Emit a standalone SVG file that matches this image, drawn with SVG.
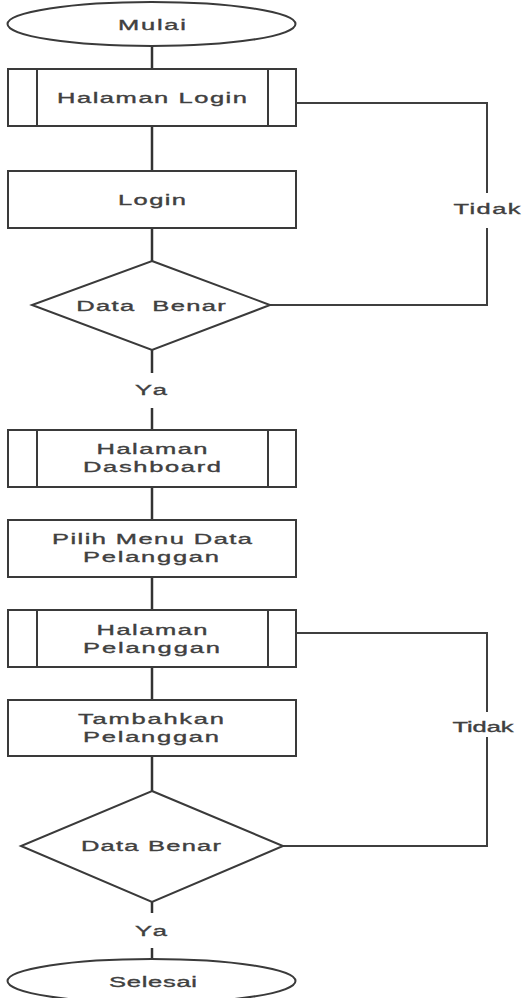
<svg xmlns="http://www.w3.org/2000/svg" width="522" height="998" viewBox="0 0 522 998">
  <style>
    .shape { fill: #ffffff; stroke: #3a3a3a; stroke-width: 2; }
    .bar { stroke: #3a3a3a; stroke-width: 2; }
    .flow { fill: none; stroke: #333333; stroke-width: 2.5; }
    .loop { fill: none; stroke: #3f3f3f; stroke-width: 2; }
    text { font-family: "Liberation Sans", Arial, sans-serif; font-size: 15px; fill: #404040; stroke: #404040; stroke-width: 0.35; text-anchor: middle; }
  </style>
  <rect width="522" height="998" fill="#ffffff"/>

  <!-- connectors; every label is drawn with wide (1.7x) glyphs -->
  <g id="connectors">
    <line class="flow" x1="152" y1="46" x2="152" y2="69"/>
    <line class="flow" x1="152" y1="126" x2="152" y2="171"/>
    <line class="flow" x1="152" y1="228" x2="152" y2="261"/>
    <line class="flow" x1="152" y1="350" x2="152" y2="373"/>
    <line class="flow" x1="152" y1="408" x2="152" y2="430"/>
    <line class="flow" x1="152" y1="487" x2="152" y2="520"/>
    <line class="flow" x1="152" y1="577" x2="152" y2="610"/>
    <line class="flow" x1="152" y1="667" x2="152" y2="700"/>
    <line class="flow" x1="152" y1="756" x2="152" y2="791"/>
    <line class="flow" x1="152" y1="902" x2="152" y2="913"/>
    <line class="flow" x1="152" y1="948" x2="152" y2="959"/>
    <!-- "Tidak" return loops -->
    <polyline class="loop" points="296,103 487,103 487,193"/>
    <polyline class="loop" points="270,305 487,305 487,228"/>
    <polyline class="loop" points="296,633 487,633 487,712"/>
    <polyline class="loop" points="283,846 487,846 487,737"/>
    <text transform="translate(487,214) scale(1.7,1)" textLength="39.4" lengthAdjust="spacing">Tidak</text>
    <text transform="translate(483,732) scale(1.7,1)" textLength="36" lengthAdjust="spacing">Tidak</text>
    <text transform="translate(151,395) scale(1.7,1)" textLength="18.8" lengthAdjust="spacing">Ya</text>
    <text transform="translate(151,936) scale(1.7,1)" textLength="18.8" lengthAdjust="spacing">Ya</text>
  </g>

  <g id="mulai">
    <ellipse class="shape" cx="151.5" cy="24" rx="144" ry="22"/>
    <text transform="translate(152,29.5) scale(1.7,1)" textLength="40" lengthAdjust="spacing">Mulai</text>
  </g>

  <g id="halaman-login">
    <rect class="shape" x="8" y="69" width="288" height="57"/>
    <line class="bar" x1="37" y1="69" x2="37" y2="126"/>
    <line class="bar" x1="268" y1="69" x2="268" y2="126"/>
    <text transform="translate(152,102.5) scale(1.7,1)" textLength="111.8" lengthAdjust="spacing">Halaman Login</text>
  </g>

  <g id="login">
    <rect class="shape" x="8" y="171" width="288" height="57"/>
    <text transform="translate(152,204.5) scale(1.7,1)" textLength="40" lengthAdjust="spacing">Login</text>
  </g>

  <g id="cek-login">
    <polygon class="shape" points="152,261 270,305 152,350 32,305"/>
    <text transform="translate(151,310.5) scale(1.7,1)" textLength="88" lengthAdjust="spacing" xml:space="preserve">Data  Benar</text>
  </g>

  <g id="halaman-dashboard">
    <rect class="shape" x="8" y="430" width="288" height="57"/>
    <line class="bar" x1="37" y1="430" x2="37" y2="487"/>
    <line class="bar" x1="268" y1="430" x2="268" y2="487"/>
    <text transform="translate(152,454) scale(1.7,1)" textLength="65.3" lengthAdjust="spacing">Halaman</text>
    <text transform="translate(152,472) scale(1.7,1)" textLength="81.2" lengthAdjust="spacing">Dashboard</text>
  </g>

  <g id="pilih-menu">
    <rect class="shape" x="8" y="520" width="288" height="57"/>
    <text transform="translate(152,544) scale(1.7,1)" textLength="117.6" lengthAdjust="spacing">Pilih Menu Data</text>
    <text transform="translate(151,562) scale(1.7,1)" textLength="80" lengthAdjust="spacing">Pelanggan</text>
  </g>

  <g id="halaman-pelanggan">
    <rect class="shape" x="8" y="610" width="288" height="57"/>
    <line class="bar" x1="37" y1="610" x2="37" y2="667"/>
    <line class="bar" x1="268" y1="610" x2="268" y2="667"/>
    <text transform="translate(152,634.5) scale(1.7,1)" textLength="65.3" lengthAdjust="spacing">Halaman</text>
    <text transform="translate(151.5,652.5) scale(1.7,1)" textLength="80.6" lengthAdjust="spacing">Pelanggan</text>
  </g>

  <g id="tambah-pelanggan">
    <rect class="shape" x="8" y="700" width="288" height="56"/>
    <text transform="translate(151,723.5) scale(1.7,1)" textLength="85.9" lengthAdjust="spacing">Tambahkan</text>
    <text transform="translate(151,741.5) scale(1.7,1)" textLength="80" lengthAdjust="spacing">Pelanggan</text>
  </g>

  <g id="cek-pelanggan">
    <polygon class="shape" points="152,791 283,846 152,902 21,846"/>
    <text transform="translate(151,851) scale(1.7,1)" textLength="82.4" lengthAdjust="spacing">Data Benar</text>
  </g>

  <g id="selesai">
    <ellipse class="shape" cx="151.5" cy="981" rx="144" ry="22"/>
    <text transform="translate(153,986.5) scale(1.7,1)" textLength="51.8" lengthAdjust="spacing">Selesai</text>
  </g>
</svg>
